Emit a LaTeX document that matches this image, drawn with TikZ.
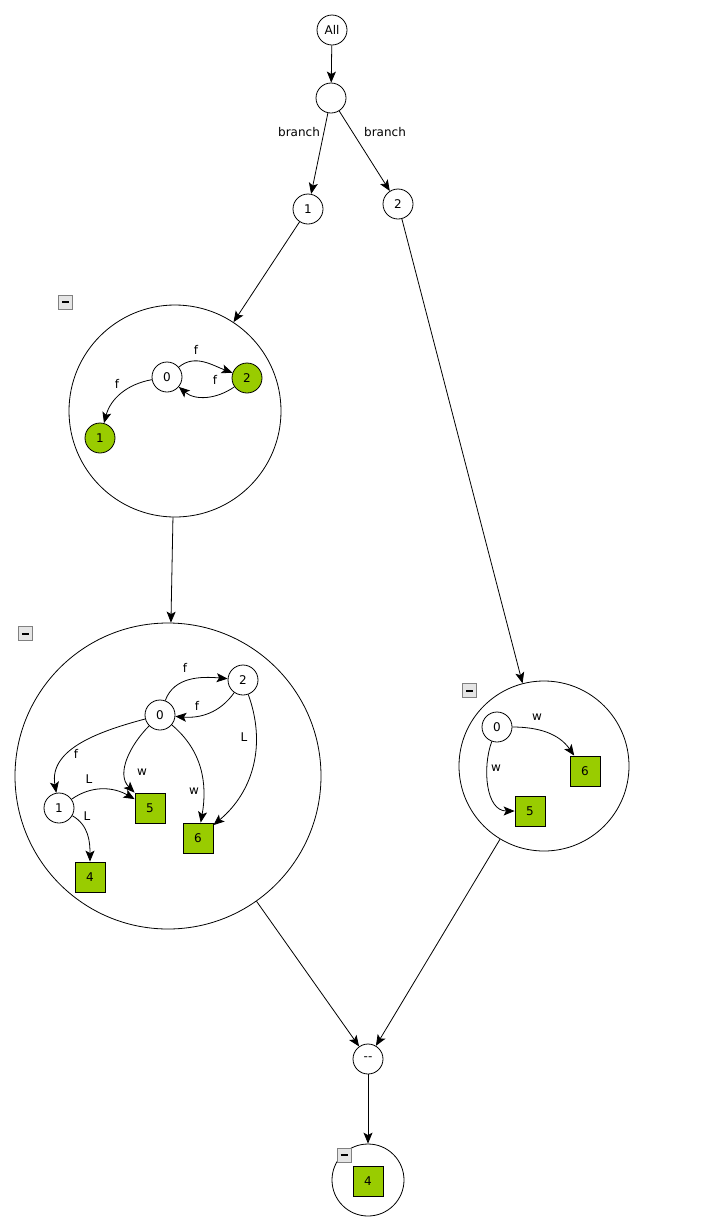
\documentclass[tikz,border=0pt]{standalone}
\usepackage{fontspec}
\setmainfont{DejaVu Sans}
\usetikzlibrary{arrows.meta}
\definecolor{leaf}{RGB}{153,204,0}
\begin{document}
\begin{tikzpicture}[x=1pt,y=-1pt,
  every node/.style={font=\fontsize{12}{14}\selectfont},
  st/.style={circle,draw,line width=0.8pt,fill=white,minimum size=30pt,inner sep=0pt},
  gst/.style={st,fill=leaf},
  box/.style={rectangle,draw,line width=0.8pt,fill=leaf,minimum size=30pt,inner sep=0pt},
  big/.style={circle,draw,line width=0.8pt,inner sep=0pt},
  arr/.style={line width=0.8pt,-{Stealth[length=11pt,width=9pt,inset=2.5pt]}},
  lbl/.style={inner sep=0pt},
  minus/.style={rectangle,draw=gray,fill=gray!20,line width=0.8pt,minimum size=14pt,inner sep=0pt,
    path picture={\draw[draw=black,line width=2pt] ([xshift=-3.5pt]path picture bounding box.center) -- ([xshift=3.5pt]path picture bounding box.center);}}
]
\useasboundingbox (0,0) rectangle (721,1232);
% top part
\node[st] (all) at (332,30) {All};
\node[st] (root) at (331,98) {};
\node[st] (t1) at (308,209) {1};
\node[st] (t2) at (398,204) {2};
\draw[arr] (all) -- (root);
\draw[arr] (root) -- (t1);
\draw[arr] (root) -- (t2);
\node[lbl] (bl1) at (299,132) {branch};
\node[lbl] (bl2) at (385,132) {branch};
% big circles
\node[big,minimum size=212pt] (A) at (175,411) {};
\node[big,minimum size=306pt] (B) at (168,776) {};
\node[big,minimum size=170pt] (C) at (544,766) {};
\node[st] (dd) at (368,1059) {-{}-};
\node[big,minimum size=72pt] (D) at (368,1180) {};
\draw[arr] (t1) -- (A);
\draw[arr] (A) -- (B);
\draw[arr] (t2) -- (C);
\draw[arr] (B) -- (dd);
\draw[arr] (C) -- (dd);
\draw[arr] (dd) -- (D);
% minus boxes
\node[minus] (mA) at (65.5,302) {};
\node[minus] (mB) at (25.5,633.5) {};
\node[minus] (mC) at (469.5,690.5) {};
\node[minus] (mD) at (344,1155) {};
% inside A
\node[st] (a0) at (167,377) {0};
\node[gst] (a2) at (247,378) {2};
\node[gst] (a1) at (100,438) {1};
\draw[arr] (a0) to[out=40,in=160] (a2);
\draw[arr] (a2) to[out=215,in=-40] (a0);
\draw[arr] (a0) to[out=190,in=75] (a1);
\node[lbl] (af1) at (196,350) {f};
\node[lbl] (af2) at (215,380) {f};
\node[lbl] (af3) at (117,384) {f};
% inside B
\node[st] (b0) at (160,715) {0};
\node[st] (b2) at (243,680) {2};
\node[st] (b1) at (59,808) {1};
\node[box] (b5) at (150,808) {5};
\node[box] (b6) at (198,838) {6};
\node[box] (b4) at (90,877) {4};
\draw[arr] (b0) to[out=70,in=175] (b2);
\draw[arr] (b2) to[out=235,in=-5] (b0);
\draw[arr] (b2) to[out=-70,in=40] (b6);
\draw[arr] (b0) to[out=195,in=100] (b1);
\draw[arr] (b0) to[out=225,in=135] (b5);
\draw[arr] (b0) to[out=-40,in=80] (b6);
\draw[arr] (b1) to[out=35,in=150] (b5);
\draw[arr] (b1) to[out=-30,in=90] (b4);
\node[lbl] (bf1) at (185,668) {f};
\node[lbl] (bf2) at (197,706) {f};
\node[lbl] (bL1) at (244,737) {L};
\node[lbl] (bf3) at (76,754) {f};
\node[lbl] (bw1) at (142,772) {w};
\node[lbl] (bw2) at (194,791) {w};
\node[lbl] (bL2) at (89,779) {L};
\node[lbl] (bL3) at (87,816) {L};
% inside C
\node[st] (c0) at (497,727) {0};
\node[box] (c6) at (585,771) {6};
\node[box] (c5) at (530,811) {5};
\draw[arr] (c0) to[out=0,in=125] (c6);
\draw[arr] (c0) to[out=250,in=180] (c5);
\node[lbl] (cw1) at (537,717) {w};
\node[lbl] (cw2) at (496,768) {w};
% inside D
\node[box] (d4) at (368,1181) {4};
\end{tikzpicture}
\end{document}
